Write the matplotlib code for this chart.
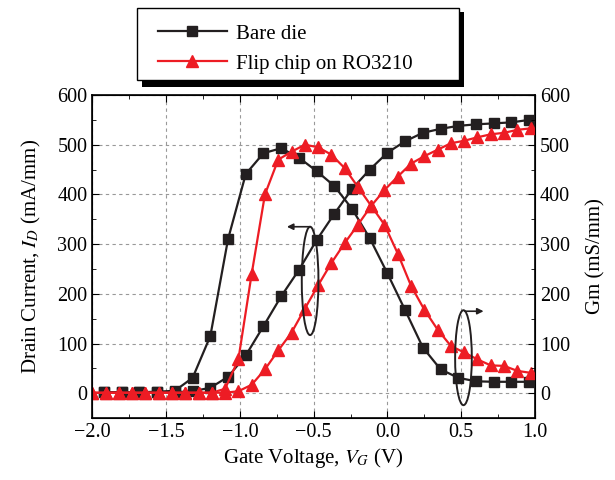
import matplotlib
matplotlib.use('Agg')
import matplotlib.pyplot as plt
from matplotlib.patches import Ellipse, Rectangle
from matplotlib.ticker import MultipleLocator

plt.rcParams['font.family'] = ['Liberation Serif', 'DejaVu Serif']
plt.rcParams['mathtext.fontset'] = 'stix'

# Bare die (squares), gate voltage step 0.12 V
vg_bare = [-1.92, -1.80, -1.68, -1.56, -1.44, -1.32, -1.20, -1.08, -0.96, -0.84,
           -0.72, -0.60, -0.48, -0.36, -0.24, -0.12, 0.00, 0.12, 0.24, 0.36,
           0.48, 0.60, 0.72, 0.84, 0.96]
id_bare = [2, 2, 2, 2, 2, 4, 11, 33, 76, 135, 195, 248, 308, 361, 411, 450, 484,
           507, 524, 532, 538, 541, 543, 545, 550]
gm_bare = [2, 2, 2, 3, 5, 31, 115, 310, 441, 483, 493, 474, 447, 417, 371, 312,
           241, 167, 92, 48, 31, 24, 23, 23, 23]

# Flip chip on RO3210 (triangles), gate voltage step 0.09 V
vg_flip = [-2.00, -1.91, -1.82, -1.73, -1.64, -1.55, -1.46, -1.37, -1.28, -1.19,
           -1.10, -1.01, -0.92, -0.83, -0.74, -0.65, -0.56, -0.47, -0.38, -0.29,
           -0.20, -0.11, -0.02, 0.07, 0.16, 0.25, 0.34, 0.43, 0.52, 0.61, 0.70,
           0.79, 0.88, 0.97]
id_flip = [1, 1, 1, 1, 1, 1, 1, 1, 1, 1, 1, 4, 17, 48, 86, 122, 170, 217, 262,
           302, 339, 377, 409, 436, 462, 477, 490, 503, 508, 515, 521, 524, 530, 533]
gm_flip = [1, 1, 1, 1, 1, 1, 1, 1, 1, 1, 9, 68, 240, 400, 470, 486, 500, 495, 480,
           453, 415, 377, 339, 281, 216, 168, 128, 95, 82, 68, 56, 55, 45, 41]

black = '#231f20'
red = '#ed1c24'

fig = plt.figure(figsize=(6.15, 4.8), dpi=100)
ax = fig.add_axes([0.150, 0.129, 0.720, 0.673])

# Bare die
ax.plot(vg_bare, id_bare, color=black, lw=1.6, marker='s', ms=7.5, zorder=3)
ax.plot(vg_bare, gm_bare, color=black, lw=1.6, marker='s', ms=7.5, zorder=3)
# Flip chip
ax.plot(vg_flip, id_flip, color=red, lw=1.6, marker='^', ms=9, zorder=4)
ax.plot(vg_flip, gm_flip, color=red, lw=1.6, marker='^', ms=9, zorder=4)

ax.set_xlim(-2.0, 1.0)
ax.set_ylim(-50, 600)
ax.xaxis.set_major_locator(MultipleLocator(0.5))
ax.xaxis.set_minor_locator(MultipleLocator(0.25))
ax.set_yticks([0, 100, 200, 300, 400, 500, 600])
ax.yaxis.set_minor_locator(MultipleLocator(50))
ax.tick_params(which='both', direction='in', top=True, right=False, labelsize=14.5)
ax.tick_params(which='major', length=5)
ax.tick_params(which='minor', length=3)
ax.grid(True, which='major', color='#999999', ls=(0, (3, 3)), lw=0.8)
for s in ax.spines.values():
    s.set_linewidth(1.2)

ax.set_xlabel('Gate Voltage, $V_G$ (V)', fontsize=15, labelpad=3)
ax.set_ylabel('Drain Current, $I_D$ (mA/mm)', fontsize=15, labelpad=10)

ax2 = ax.twinx()
ax2.set_ylim(-50, 600)
ax2.set_yticks([0, 100, 200, 300, 400, 500, 600])
ax2.yaxis.set_minor_locator(MultipleLocator(50))
ax2.tick_params(which='both', direction='in', labelsize=14.5)
ax2.tick_params(which='major', length=5)
ax2.tick_params(which='minor', length=3)
ax2.set_ylabel('Gm (mS/mm)', fontsize=15, labelpad=12)

# annotations: ellipses with arrows to the axes
ax.add_patch(Ellipse((-0.524, 226), 0.113, 218, fill=False, lw=1.4, ec=black, zorder=5))
ax.annotate('', xy=(-0.70, 335), xytext=(-0.51, 335),
            arrowprops=dict(arrowstyle='-|>', lw=1.2, color=black, mutation_scale=9))
ax.add_patch(Ellipse((0.515, 71.5), 0.113, 191, fill=False, lw=1.4, ec=black, zorder=5))
ax.annotate('', xy=(0.67, 165), xytext=(0.505, 165),
            arrowprops=dict(arrowstyle='-|>', lw=1.2, color=black, mutation_scale=9))

# legend box with shadow
fig.patches.append(Rectangle((0.2304, 0.8181), 0.5233, 0.1569, transform=fig.transFigure,
                             facecolor='black', edgecolor='none', zorder=1))
fig.patches.append(Rectangle((0.2233, 0.8333), 0.5231, 0.1494, transform=fig.transFigure,
                             facecolor='white', edgecolor='black', lw=1.0, zorder=2))
h1, = ax.plot([], [], color=black, lw=1.6, marker='s', ms=7.5)
h2, = ax.plot([], [], color=red, lw=1.6, marker='^', ms=9)
leg = fig.legend([h1, h2], ['Bare die', 'Flip chip on RO3210'], loc='upper left',
                 bbox_to_anchor=(0.257, 0.950), frameon=False, fontsize=15,
                 handlelength=3.3, handletextpad=0.45, labelspacing=0.5,
                 borderpad=0, borderaxespad=0)
leg.set_zorder(3)

fig.savefig('out.png', dpi=100)
